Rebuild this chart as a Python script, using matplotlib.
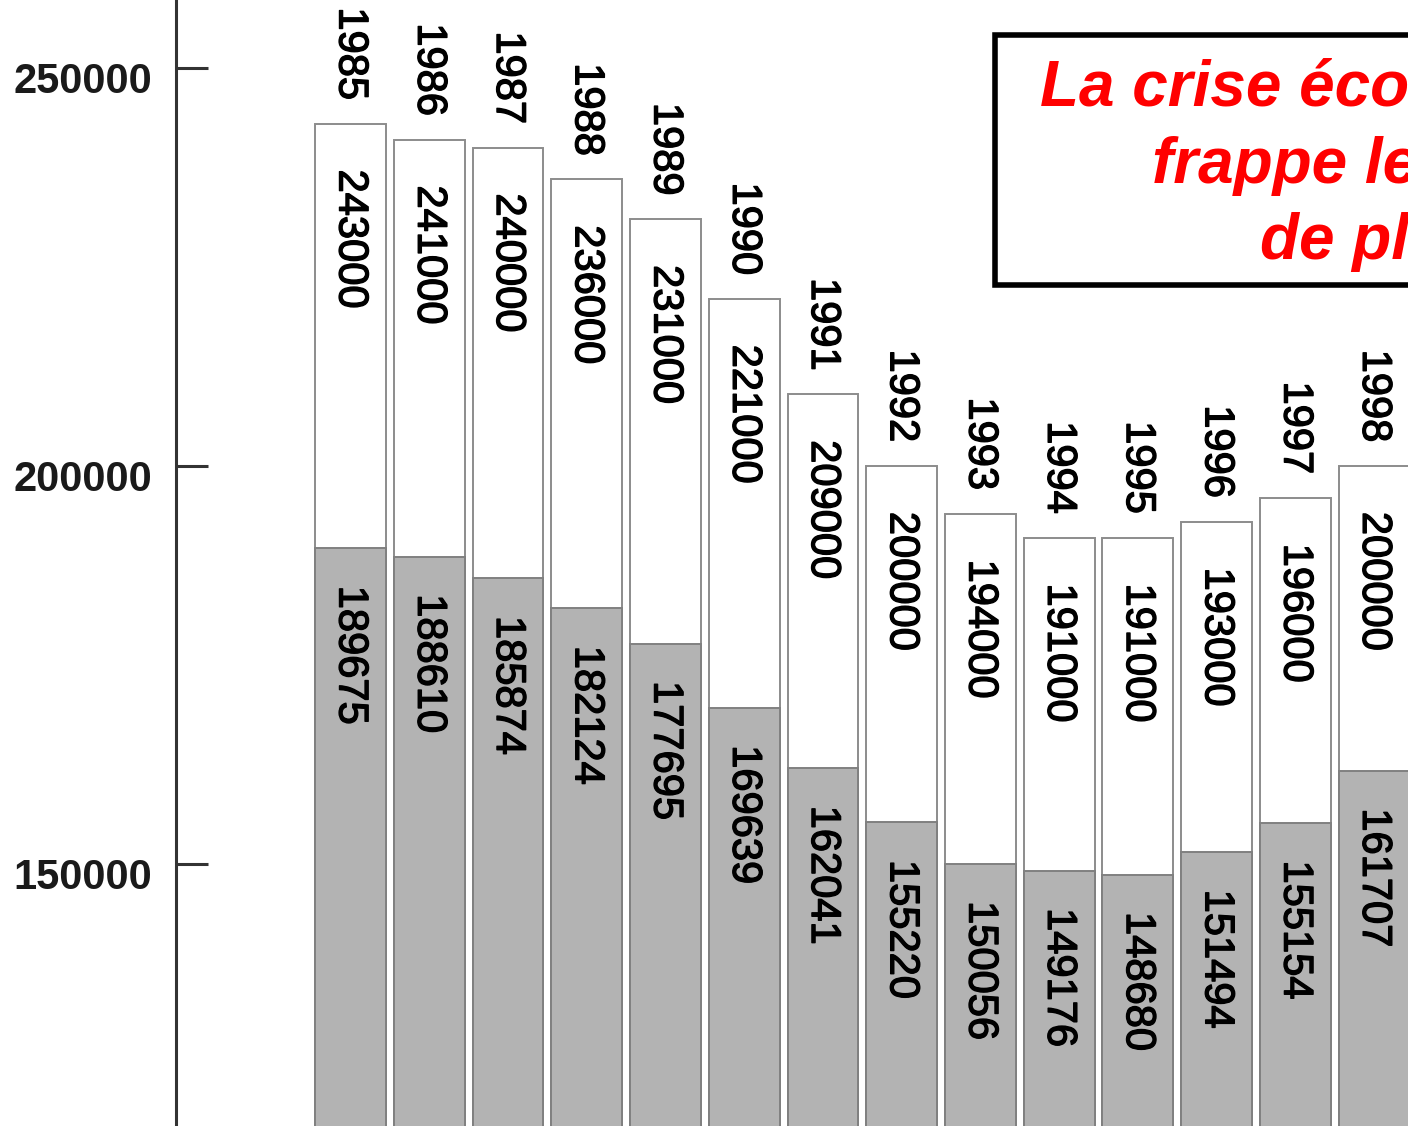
import matplotlib
matplotlib.use("Agg")
import matplotlib.pyplot as plt
import matplotlib.patheffects as pe
from matplotlib.patches import Rectangle
from matplotlib.transforms import ScaledTranslation

plt.rcParams['font.family'] = ['Liberation Sans', 'DejaVu Sans']

years = [1985, 1986, 1987, 1988, 1989, 1990, 1991, 1992, 1993, 1994, 1995, 1996, 1997, 1998]
totals = [243000, 241000, 240000, 236000, 231000, 221000, 209000, 200000, 194000, 191000, 191000, 193000, 196000, 200000]
sold = [189675, 188610, 185874, 182124, 177695, 169639, 162041, 155220, 150056, 149176, 148680, 151494, 155154, 161707]
yticks = [150000, 200000, 250000]
note_lines = ["La crise économique", "frappe les ventes", "de plus en plus"]

W, H = 1408, 1126
fig = plt.figure(figsize=(W / 100, H / 100), dpi=100)
ax = fig.add_axes([176 / W, 0, 1 - 176 / W, 1])

x = list(range(len(years)))
ax.bar(x, totals, width=0.9, color='white', edgecolor='#8c8c8c', linewidth=1.4)
ax.bar(x, sold, width=0.9, color='#b3b3b3', edgecolor='#808080', linewidth=1.4)

# slightly heavier than regular, like the blurred source text
heavy = [pe.withStroke(linewidth=1.0, foreground='black')]
lab = dict(rotation=270, ha='center', fontsize=30, fontweight='normal',
           textcoords='offset points', color='black', path_effects=heavy)
for xi, yr, t, s in zip(x, years, totals, sold):
    ax.annotate(str(yr), (xi, t), xytext=(0, 17), va='bottom', **lab)
    ax.annotate(str(t), (xi, t), xytext=(0, -33), va='top', **lab)
    ax.annotate(str(s), (xi, s), xytext=(0, -27), va='top', **lab)

ax.set_xlim(-2.216, 13.43)
ax.set_ylim(117086, 258543)
ax.set_xticks([])
ax.set_yticks(yticks, [str(v) for v in yticks])
for sp in ['top', 'right', 'bottom']:
    ax.spines[sp].set_visible(False)
ax.spines['left'].set_linewidth(2.2)
ax.spines['left'].set_color('#333333')
ax.tick_params(axis='y', direction='in', length=23, width=2.2, pad=17,
               labelsize=30, color='#333333', labelcolor='#1a1a1a')
for t in ax.get_yticklabels():
    t.set_fontweight('bold')
    t.set_transform(t.get_transform() + ScaledTranslation(0, -0.095, fig.dpi_scale_trans))

# note box, cut at the right edge like the source
box = Rectangle((994.5 / W, 1 - 285 / H), 0.5, (285 - 34.5) / H, transform=fig.transFigure,
                facecolor='white', edgecolor='black', linewidth=4, clip_on=False, zorder=5)
fig.add_artist(box)
for line, lx, ly in zip(note_lines, [1040, 1152, 1260], [106, 183, 259]):
    fig.text(lx / W, 1 - ly / H, line, ha='left', va='baseline', color='#ff0000',
             fontsize=46, fontweight='bold', fontstyle='italic', zorder=6)

fig.savefig('out.png', dpi=100)
plt.close(fig)
